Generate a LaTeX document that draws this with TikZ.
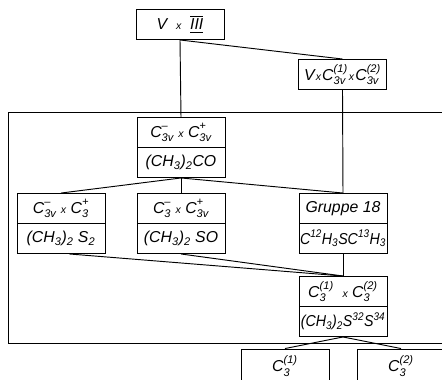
\documentclass[tikz,border=0pt]{standalone}
\usepackage{amsmath}
\usepackage{graphicx}
\usepackage{fontspec}
\setmainfont{Liberation Sans}
\usepackage{tikz}
\usetikzlibrary{positioning}

% group symbol with sub- and superscript
\newcommand{\grp}[3]{\ensuremath{\textit{#1}_{\textit{#2}}^{\textit{#3}}}}
\newcommand{\tms}{{\small\textit{x}}}
\newcommand{\narrow}[1]{\scalebox{0.9}[1]{#1}}

\begin{document}
\begin{tikzpicture}[x=0.03cm,y=-0.03cm,line width=0.8pt,
    cell/.style={draw, minimum width=2.64cm, minimum height=0.9cm, inner sep=0pt,
                 font=\fontsize{13.5}{16}\selectfont\itshape}]
    \useasboundingbox (0,0) rectangle (442,379);

    % outer frame
    \draw (8,112) rectangle (470,343);

    % top level
    \node[cell] (top) at (180,24.5) {\textit{V}\ \ \tms\ \ $\overline{\underline{\textit{III}}}$};
    \node[cell] (vc) at (342.5,74.5) {\textit{V}\kern1pt\tms\kern1pt\grp{C}{3v}{(1)}\kern1pt\tms\kern1pt\grp{C}{3v}{(2)}};

    % acetone
    \node[cell] (cotop) at (181,132.5) {\grp{C}{3v}{--} \tms\ \grp{C}{3v}{+}};
    \node[cell] (cobot) at (181,162.5) {(CH\textsubscript{3})\textsubscript{2}CO};

    % second row
    \node[cell] (s2top) at (61,208.5) {\grp{C}{3v}{--} \tms\ \grp{C}{3}{+}};
    \node[cell] (s2bot) at (61,238.5) {(CH\textsubscript{3})\textsubscript{2} S\textsubscript{2}};
    \node[cell] (sotop) at (181,208.5) {\grp{C}{3}{--} \tms\ \grp{C}{3v}{+}};
    \node[cell] (sobot) at (181,238.5) {(CH\textsubscript{3})\textsubscript{2} SO};
    \node[cell] (gtop) at (343,208.5) {Gruppe 18};
    \node[cell] (gbot) at (343,238.5) {\narrow{C\textsuperscript{12}H\textsubscript{3}SC\textsuperscript{13}H\textsubscript{3}}};

    % dimethyl sulfide
    \node[cell] (stop) at (343,291.5) {\grp{C}{3}{(1)} \ \tms\ \grp{C}{3}{(2)}};
    \node[cell] (sbot) at (343,321.5) {\narrow{(CH\textsubscript{3})\textsubscript{2}S\textsuperscript{32}S\textsuperscript{34}}};

    % subgroups
    \node[cell, minimum height=1.02cm] (ca) at (285,366) {\grp{C}{3}{(1)}};
    \node[cell, minimum height=1.02cm] (cb) at (401,366) {\grp{C}{3}{(2)}};

    % connections
    \draw (top.south) -- (cotop.north);
    \draw (top.south) -- (vc.north);
    \draw (vc.south) -- (gtop.north);
    \draw (cobot.south) -- (s2top.north);
    \draw (cobot.south) -- (sotop.north);
    \draw (cobot.south) -- (gtop.north);
    \draw ([xshift=0.25cm]s2bot.south) -- (stop.north);
    \draw (sobot.south) -- (stop.north);
    \draw (gbot.south) -- (stop.north);
    \draw (sbot.south) -- (ca.north);
    \draw (sbot.south) -- (cb.north);
\end{tikzpicture}
\end{document}
